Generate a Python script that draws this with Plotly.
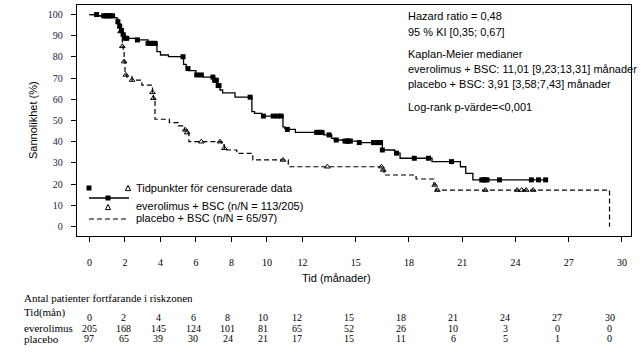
import plotly.graph_objects as go
import numpy as np

# ---------------- data ----------------
evero_t = [0, 0.45, 1.4, 1.55, 1.65, 1.75, 1.85, 2.0, 2.7, 3.3, 3.8, 4.0, 4.45, 5.3, 5.45, 5.6,
           6.0, 6.4, 7.05, 7.2, 7.35, 7.5, 8.2, 9.15, 9.3, 9.7, 10.9, 11.0, 11.15, 11.6,
           13.2, 13.65, 13.8, 14.3, 15.2, 16.5, 17.2, 17.5, 19.3, 20.9, 21.2, 21.6]
evero_s = [100, 99.4, 98.5, 96.6, 94.5, 92.5, 90.5, 88.8, 88.0, 86.4, 82.5, 80.9, 80.1, 76.5, 74.5, 73.5,
           71.5, 70.5, 69.0, 66.5, 64.4, 63.0, 61.0, 54.2, 53.4, 52.1, 47.0, 46.3, 45.8, 44.4,
           43.2, 41.6, 40.8, 40.3, 39.6, 36.1, 34.6, 32.2, 30.6, 28.2, 25.1, 22.0]
evero_end = 25.7
evero_cens = [0.4, 0.8, 0.9, 1.0, 1.1, 1.2, 1.3, 1.6, 1.7, 1.8, 1.9, 2.0, 2.1, 2.7, 3.3, 3.45, 3.6, 3.7,
              5.27, 5.55, 6.04, 6.3, 6.95, 7.05, 7.15, 7.25, 7.3, 9.05, 9.8, 10.35, 10.6, 10.8,
              11.15, 12.8, 12.9, 13.0, 13.1, 13.5, 13.9, 14.4, 14.5, 14.6, 14.7, 15.2,
              16.0, 16.1, 16.2, 16.3, 16.4, 16.5, 17.3, 18.3, 19.1, 20.4,
              22.1, 22.2, 22.3, 22.4, 23.1, 24.9, 25.3, 25.7]

plac_t = [0, 0.45, 1.4, 1.6, 1.75, 1.8, 1.85, 1.9, 1.95, 2.0, 2.1, 2.4, 2.95, 3.55, 3.6, 3.69,
          4.5, 5.0, 5.35, 5.5, 5.6, 7.45, 7.6, 7.75, 8.3, 9.2, 11.2, 16.5, 16.6, 18.4, 19.4, 19.5, 29.3]
plac_s = [100, 99.4, 98.5, 96.0, 92.0, 89.0, 85.0, 82.5, 77.8, 71.5, 70.6, 69.1, 66.7, 63.3, 60.5, 50.6,
          49.0, 47.5, 45.6, 44.3, 40.0, 38.5, 36.9, 36.1, 34.5, 31.4, 28.2, 26.7, 24.3, 22.4, 19.6, 17.2, 0]
plac_cens = [1.75, 1.85, 1.95, 2.05, 2.4, 3.55, 3.6, 5.4, 5.5, 6.3, 7.35, 7.6, 10.9, 13.4,
             16.45, 16.55, 19.45, 19.6, 22.3, 24.1, 24.35, 24.6, 25.0]

xtick_vals = [0, 2, 4, 6, 8, 10, 12, 15, 18, 21, 24, 27, 30]
ytick_vals = [0, 10, 20, 30, 40, 50, 60, 70, 80, 90, 100]

risk_times = [0, 2, 4, 6, 8, 10, 12, 15, 18, 21, 24, 27, 30]
risk_evero = [205, 168, 145, 124, 101, 81, 65, 52, 26, 10, 3, 0, 0]
risk_plac = [97, 65, 39, 30, 24, 21, 17, 15, 11, 6, 5, 1, 0]

info_lines = ["Hazard ratio = 0,48", "95 % KI [0,35; 0,67]", "Kaplan-Meier medianer",
              "everolimus + BSC: 11,01 [9,23;13,31] månader",
              "placebo + BSC: 3,91 [3,58;7,43] månader", "Log-rank p-värde=<0,001"]

# ---------------- layout helpers ----------------
W, H = 641, 354
ML, MR, MT, MB = 77, 10, 5, 118
PW, PH = W - ML - MR, H - MT - MB


def pxx(px):
    return (px - ML) / PW


def pxy(py):
    return (H - MB - py) / PH


def level_at(ts, ss, t):
    idx = np.searchsorted(np.array(ts), t, side="right") - 1
    return ss[max(idx, 0)]


SERIF = "Liberation Serif"
SANS = "Liberation Sans"

fig = go.Figure()

# everolimus step line
fig.add_trace(go.Scatter(x=evero_t + [evero_end], y=evero_s + [evero_s[-1]], mode="lines",
                         line=dict(color="black", width=1.3, shape="hv"), showlegend=False,
                         hoverinfo="skip"))
# placebo step line
fig.add_trace(go.Scatter(x=plac_t, y=plac_s, mode="lines",
                         line=dict(color="black", width=1.2, shape="hv", dash="5px,3px"),
                         showlegend=False, hoverinfo="skip"))
# censor marks
fig.add_trace(go.Scatter(x=evero_cens, y=[level_at(evero_t, evero_s, t) for t in evero_cens],
                         mode="markers", marker=dict(symbol="square", size=5, color="black"),
                         showlegend=False))
fig.add_trace(go.Scatter(x=plac_cens, y=[level_at(plac_t, plac_s, t) for t in plac_cens],
                         mode="markers",
                         marker=dict(symbol="triangle-up-open", size=5, color="black",
                                     line=dict(width=1)),
                         showlegend=False))

ann = []
shapes = []

# info text
info_y = [16, 32, 54, 69, 84, 107]
for txt, y in zip(info_lines, info_y):
    ann.append(dict(text=txt, x=pxx(406), y=pxy(y), xref="paper", yref="paper",
                    xanchor="left", yanchor="middle", showarrow=False,
                    font=dict(family=SANS, size=11, color="black")))

# legend
ann.append(dict(text="Tidpunkter för censurerade data", x=pxx(134), y=pxy(188), xref="paper",
                yref="paper", xanchor="left", yanchor="middle", showarrow=False,
                font=dict(family=SANS, size=11, color="black")))
ann.append(dict(text="everolimus + BSC (n/N = 113/205)", x=pxx(134), y=pxy(206), xref="paper",
                yref="paper", xanchor="left", yanchor="middle", showarrow=False,
                font=dict(family=SANS, size=11, color="black")))
ann.append(dict(text="placebo + BSC (n/N = 65/97)", x=pxx(134), y=pxy(218), xref="paper",
                yref="paper", xanchor="left", yanchor="middle", showarrow=False,
                font=dict(family=SANS, size=11, color="black")))


def sq(cx, cy, s=2.5):
    shapes.append(dict(type="rect", xref="paper", yref="paper", x0=pxx(cx - s), x1=pxx(cx + s),
                       y0=pxy(cy + s), y1=pxy(cy - s), fillcolor="black", line=dict(width=0)))


def tri(cx, cy, s=2.6):
    path = "M {} {} L {} {} L {} {} Z".format(pxx(cx - s), pxy(cy + s), pxx(cx + s), pxy(cy + s),
                                             pxx(cx), pxy(cy - s))
    shapes.append(dict(type="path", xref="paper", yref="paper", path=path,
                       line=dict(color="black", width=1)))


sq(89, 188)
tri(128, 188)
shapes.append(dict(type="line", xref="paper", yref="paper", x0=pxx(89), x1=pxx(129),
                   y0=pxy(198), y1=pxy(198), line=dict(color="black", width=1.3)))
sq(108, 198)
tri(108, 207)
shapes.append(dict(type="line", xref="paper", yref="paper", x0=pxx(89), x1=pxx(129),
                   y0=pxy(219), y1=pxy(219), line=dict(color="black", width=1.2, dash="5px,3px")))

# axis titles
ann.append(dict(text="Tid (månader)", x=pxx(336), y=pxy(278), xref="paper", yref="paper",
                xanchor="center", yanchor="middle", showarrow=False,
                font=dict(family=SANS, size=11, color="black")))
ann.append(dict(text="Sannolikhet (%)", x=pxx(33), y=pxy(120), xref="paper", yref="paper",
                xanchor="center", yanchor="middle", showarrow=False, textangle=-90,
                font=dict(family=SANS, size=11, color="black")))

# at-risk table
ann.append(dict(text="Antal patienter fortfarande i riskzonen", x=pxx(22), y=pxy(298),
                xref="paper", yref="paper", xanchor="left", yanchor="middle", showarrow=False,
                font=dict(family=SERIF, size=11, color="black")))
for lab, y in [("Tid(mån)", 312), ("everolimus", 328), ("placebo", 339)]:
    ann.append(dict(text=lab, x=pxx(22), y=pxy(y), xref="paper", yref="paper", xanchor="left",
                    yanchor="middle", showarrow=False, font=dict(family=SERIF, size=11, color="black")))
for t, e, p in zip(risk_times, risk_evero, risk_plac):
    cx = 89 + t * 17.35
    for val, y in [(t, 317), (e, 328), (p, 338)]:
        ann.append(dict(text=str(val), x=pxx(cx), y=pxy(y), xref="paper", yref="paper",
                        xanchor="center", yanchor="middle", showarrow=False,
                        font=dict(family=SERIF, size=10, color="black")))

fig.update_layout(
    width=W, height=H, margin=dict(l=ML, r=MR, t=MT, b=MB, pad=0),
    plot_bgcolor="white", paper_bgcolor="white",
    annotations=ann, shapes=shapes, showlegend=False,
    xaxis=dict(range=[-0.704, 30.51], tickvals=xtick_vals, ticktext=[str(v) for v in xtick_vals],
               showgrid=False, zeroline=False, showline=True, mirror=True, linecolor="black",
               linewidth=1.3, ticks="outside", ticklen=5, tickcolor="black", tickwidth=1,
               ticklabelstandoff=12, tickfont=dict(family=SERIF, size=10, color="black")),
    yaxis=dict(range=[-4.48, 104.5], tickvals=ytick_vals, showgrid=False, zeroline=False,
               showline=True, mirror=True, linecolor="black", linewidth=1.3, ticks="outside",
               ticklen=5, tickcolor="black", tickwidth=1, ticklabelstandoff=6,
               tickfont=dict(family=SERIF, size=10, color="#1a1a3a")),
)

fig.write_html("out.html")
